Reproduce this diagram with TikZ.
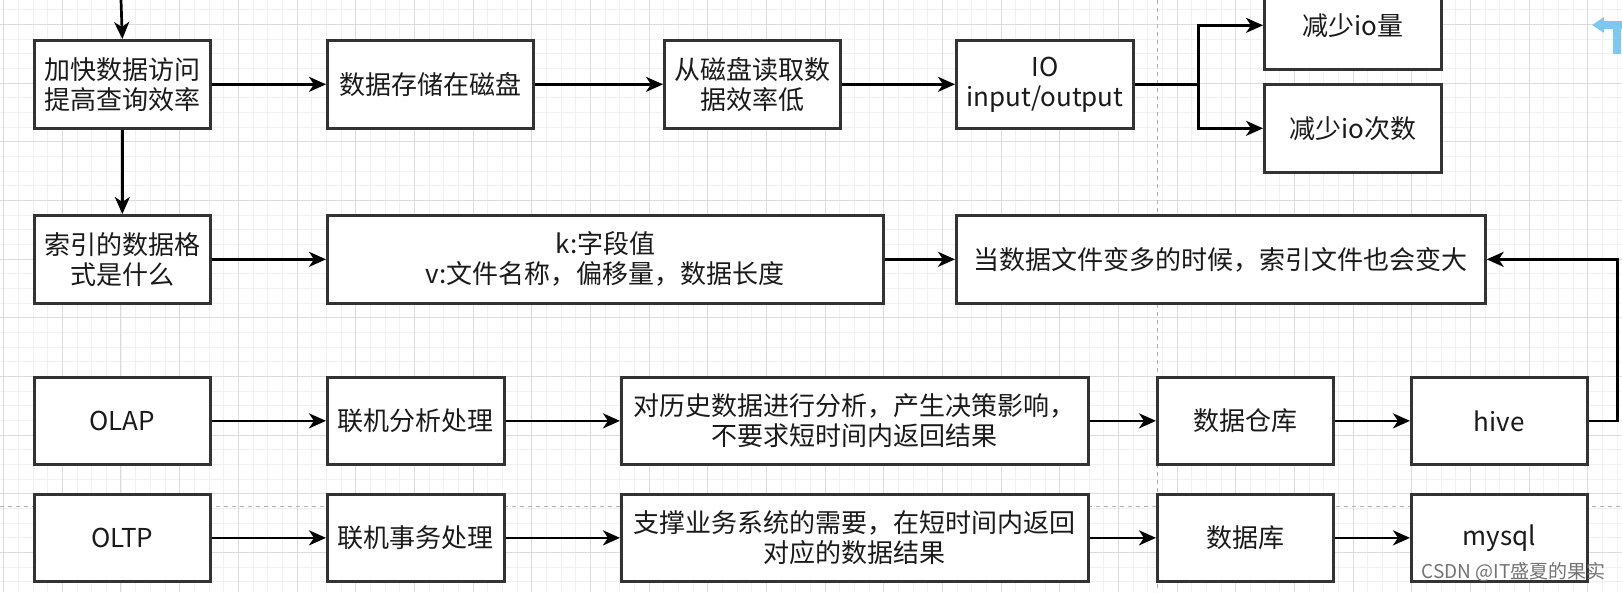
\documentclass[tikz,border=0pt]{standalone}
\usepackage{fontspec}
\newfontfamily\cjk{Noto Sans CJK SC}
\usetikzlibrary{arrows.meta}
\definecolor{boxc}{HTML}{333333}
\definecolor{txtc}{HTML}{1A1A1A}
\definecolor{uiblue}{HTML}{7CC8F0}
\begin{document}
\begin{tikzpicture}[x=1pt,y=-1pt,
  box/.style={draw=boxc, line width=2.7pt, fill=white, inner sep=0pt, align=center,
    text=txtc, font=\cjk\fontsize{26}{30}\selectfont, anchor=north west, minimum height=88pt},
  arr/.style={line width=2.7pt, draw=black, -{Stealth[length=17pt,width=15pt,inset=5pt]}},
  minorgrid/.style={draw=black!6, line width=0.8pt},
  majorgrid/.style={draw=black!14, line width=1pt},
  pagebreak/.style={draw=black!30, line width=1pt, dash pattern=on 4pt off 4pt},
  wmark/.style={text=black!55, font=\cjk\fontsize{19}{21}\selectfont, inner sep=0pt}]
\useasboundingbox (0,0) rectangle (1622,592);
\fill[white] (0,0) rectangle (1622,592);
% background grid
\foreach \k in {-3,...,108} \draw[minorgrid] ({33+\k*14.6667},0) -- ({33+\k*14.6667},592);
\foreach \k in {-3,...,38} \draw[minorgrid] (0,{39+\k*14.6667}) -- (1622,{39+\k*14.6667});
\foreach \k in {-1,...,27} \draw[majorgrid] ({62.33+\k*58.667},0) -- ({62.33+\k*58.667},592);
\foreach \k in {0,...,10} \draw[majorgrid] (0,{24.33+\k*58.667}) -- (1622,{24.33+\k*58.667});
\draw[pagebreak] (1157,0) -- (1157,592);
\draw[pagebreak] (0,506) -- (1622,506);
% editor handle (top right)
\fill[uiblue] (1592,25) -- (1604,17) -- (1604,21) -- (1622,21) -- (1622,29) -- (1604,29) -- (1604,33) -- cycle;
\fill[uiblue] (1613,29) rectangle (1621,54);

% row 1
\node[box, minimum width=176pt] (b1) at (33,39) {加快数据访问\\提高查询效率};
\node[box, minimum width=206pt] (b2) at (326,39) {数据存储在磁盘};
\node[box, minimum width=176pt] (b3) at (663,39) {从磁盘读取数\\据效率低};
\node[box, minimum width=177pt] (b4) at (955,39) {IO\\input/output};
\node[box, minimum width=177pt] (b5) at (1263,-20) {减少io量};
\node[box, minimum width=177pt] (b6) at (1263,83) {减少io次数};
% row 2
\node[box, minimum width=176pt] (b7) at (33,214) {索引的数据格\\式是什么};
\node[box, minimum width=556pt] (b8) at (326,214) {k:字段值\\v:文件名称，偏移量，数据长度};
\node[box, minimum width=529pt] (b9) at (955,214) {当数据文件变多的时候，索引文件也会变大};
% row 3
\node[box, minimum width=176pt, minimum height=87pt] (c1) at (33,376) {OLAP};
\node[box, minimum width=177pt, minimum height=87pt] (c2) at (326,376) {联机分析处理};
\node[box, minimum width=467pt, minimum height=87pt] (c3) at (620,376) {对历史数据进行分析，产生决策影响，\\不要求短时间内返回结果};
\node[box, minimum width=176pt, minimum height=87pt] (c4) at (1156,376) {数据仓库};
\node[box, minimum width=176pt, minimum height=87pt] (c5) at (1410,376) {hive};
% row 4
\node[box, minimum width=176pt, minimum height=87pt] (d1) at (33,493) {OLTP};
\node[box, minimum width=177pt, minimum height=87pt] (d2) at (326,493) {联机事务处理};
\node[box, minimum width=467pt, minimum height=87pt] (d3) at (620,493) {支撑业务系统的需要，在短时间内返回\\对应的数据结果};
\node[box, minimum width=176pt, minimum height=87pt] (d4) at (1156,493) {数据库};
\node[box, minimum width=176pt, minimum height=87pt] (d5) at (1410,493) {mysql};

% connectors
\coordinate (top) at (121,0);
\path (b4.east) ++(64,0) coordinate (j);
\path (c5.east) ++(29,0) coordinate (rt);
\draw[arr] (top) -- (b1.north);
\draw[arr] (b1) -- (b2);
\draw[arr] (b2) -- (b3);
\draw[arr] (b3) -- (b4);
\draw[line width=2.7pt] (b4.east) -- (j);
\draw[arr] (j) |- (b5.west);
\draw[arr] (j) |- (b6.west);
\draw[arr] (b1) -- (b7);
\draw[arr] (b7) -- (b8);
\draw[arr] (b8) -- (b9);
\draw[arr] (c1) -- (c2);
\draw[arr] (c2) -- (c3);
\draw[arr] (c3) -- (c4);
\draw[arr] (c4) -- (c5);
\draw[arr] (c5.east) -- (rt) |- (b9.east);
\draw[arr] (d1) -- (d2);
\draw[arr] (d2) -- (d3);
\draw[arr] (d3) -- (d4);
\draw[arr] (d4) -- (d5);

% watermark
\node[wmark, anchor=east] (wm) at (1606,572) {CSDN @IT盛夏的果实};
\end{tikzpicture}
\end{document}
